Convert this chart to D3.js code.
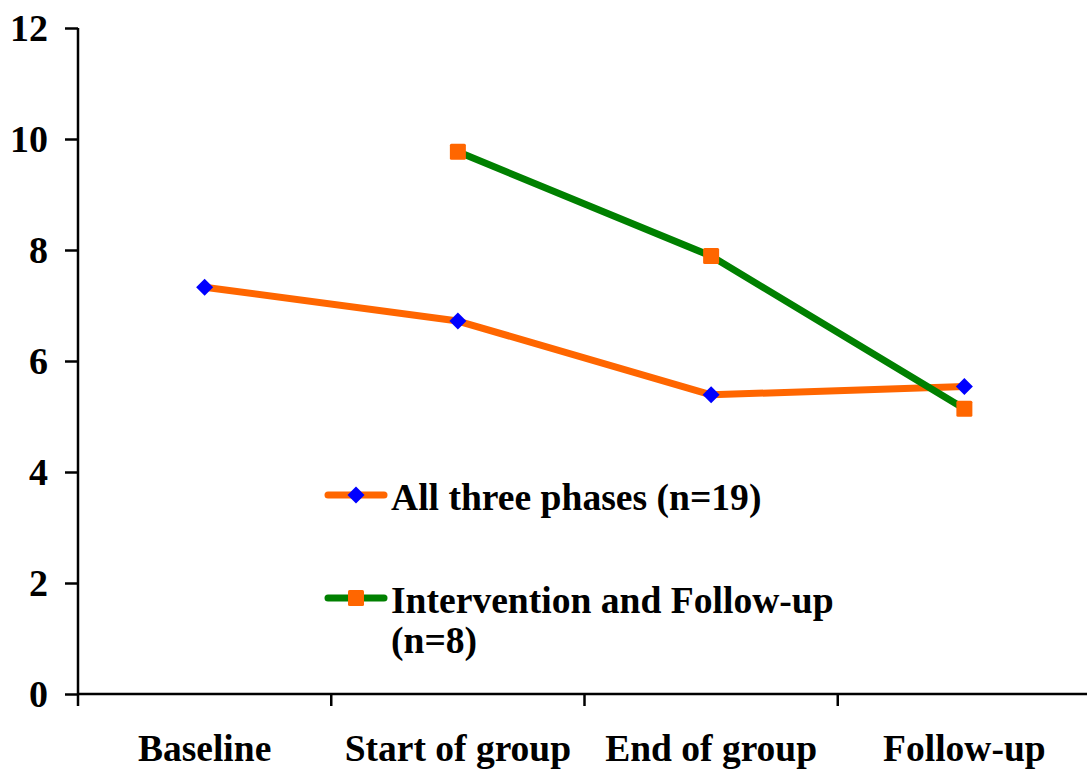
<!DOCTYPE html>
<html>
<head>
<meta charset="utf-8">
<script src="https://cdn.jsdelivr.net/npm/d3@7"></script>
<style>
  html, body { margin: 0; padding: 0; background: #fff; }
  svg text { font-family: "Liberation Serif", "Times New Roman", serif; font-weight: bold; fill: #000; }
</style>
</head>
<body>
<svg id="chart" width="1087" height="771"></svg>
<script>
// Phases along the x axis
const categories = ["Baseline", "Start of group", "End of group", "Follow-up"];
// Mean scores for participants who completed all three phases
const allPhases = [7.33, 6.72, 5.39, 5.54];
// Mean scores for the intervention / follow-up subgroup (no baseline)
const interventionFollowUp = [null, 9.77, 7.89, 5.14];
const yTicks = [0, 2, 4, 6, 8, 10, 12];
const seriesNames = ["All three phases (n=19)", "Intervention and Follow-up|(n=8)"];

const svg = d3.select("#chart");
const plotLeft = 78, plotRight = 1091, plotTop = 28, plotBottom = 694;

const x = d3.scaleBand().domain(categories).range([plotLeft, plotRight]).paddingInner(0).paddingOuter(0);
const y = d3.scaleLinear().domain([0, 12]).range([plotBottom, plotTop]);

// Y axis
const yAxis = svg.append("g")
  .attr("transform", `translate(${plotLeft},0)`)
  .call(d3.axisLeft(y).tickValues(yTicks).tickSize(13).tickPadding(17).tickFormat(d3.format("d")));
yAxis.select(".domain").attr("stroke", "#000").attr("stroke-width", 2.5).attr("d", `M0,${plotTop}V${plotBottom}`);
yAxis.selectAll(".tick line").attr("stroke", "#000").attr("stroke-width", 2.5);
yAxis.selectAll(".tick text").style("font-size", "38px").attr("dy", "0.34em");

// X axis with labels centred in bands and ticks on band boundaries
const xAxis = svg.append("g")
  .attr("transform", `translate(0,${plotBottom})`)
  .call(d3.axisBottom(x).tickSize(0).tickPadding(0));
xAxis.select(".domain").attr("stroke", "#000").attr("stroke-width", 2.5).attr("d", `M${plotLeft},0H1087`);
xAxis.selectAll(".tick text").style("font-size", "37.5px").attr("dy", null).attr("y", 67);

const boundaries = categories.map(c => x(c)).concat([x(categories[categories.length - 1]) + x.bandwidth()]);
xAxis.selectAll(".bound").data(boundaries).enter().append("line")
  .attr("class", "bound")
  .attr("x1", d => d).attr("x2", d => d)
  .attr("y1", 0).attr("y2", 12)
  .attr("stroke", "#000").attr("stroke-width", 2.5);

const cx = c => x(c) + x.bandwidth() / 2;

const orange = "#FF6600", green = "#008000", blue = "#0000FF";

const lineGen = d3.line()
  .defined(d => d.v != null)
  .x(d => cx(d.c))
  .y(d => y(d.v));

const s1 = categories.map((c, i) => ({ c, v: allPhases[i] }));
const s2 = categories.map((c, i) => ({ c, v: interventionFollowUp[i] }));

svg.append("path").datum(s1)
  .attr("d", lineGen).attr("fill", "none").attr("stroke", orange)
  .attr("stroke-width", 7).attr("stroke-linejoin", "round");
svg.append("path").datum(s2)
  .attr("d", lineGen).attr("fill", "none").attr("stroke", green)
  .attr("stroke-width", 7).attr("stroke-linejoin", "round");

const diamond = "M0,-8.5L8.5,0L0,8.5L-8.5,0Z";
const squareSize = 16;

svg.selectAll(".m1").data(s1.filter(d => d.v != null)).enter().append("path")
  .attr("class", "m1")
  .attr("transform", d => `translate(${cx(d.c)},${y(d.v)})`)
  .attr("d", diamond).attr("fill", blue);

svg.selectAll(".m2").data(s2.filter(d => d.v != null)).enter().append("rect")
  .attr("class", "m2")
  .attr("x", d => cx(d.c) - squareSize / 2).attr("y", d => y(d.v) - squareSize / 2)
  .attr("width", squareSize).attr("height", squareSize).attr("rx", 1.5)
  .attr("fill", orange);

// Legend
const legend = svg.append("g");
const legendItems = [
  { name: seriesNames[0], stroke: orange, marker: "diamond", fill: blue, y: 495 },
  { name: seriesNames[1], stroke: green, marker: "square", fill: orange, y: 598 }
];
legendItems.forEach(item => {
  const g = legend.append("g").attr("transform", `translate(0,${item.y})`);
  g.append("line").attr("x1", 328).attr("x2", 384).attr("y1", 0).attr("y2", 0)
    .attr("stroke", item.stroke).attr("stroke-width", 7).attr("stroke-linecap", "round");
  if (item.marker === "diamond") {
    g.append("path").attr("transform", "translate(356,0)").attr("d", diamond).attr("fill", item.fill);
  } else {
    g.append("rect").attr("x", 356 - squareSize / 2).attr("y", -squareSize / 2)
      .attr("width", squareSize).attr("height", squareSize).attr("rx", 1.5).attr("fill", item.fill);
  }
  const lines = item.name.split("|");
  const t = g.append("text").attr("x", 391).attr("y", 15).style("font-size", "37.6px");
  lines.forEach((ln, i) => {
    t.append("tspan").attr("x", 391).attr("dy", i === 0 ? 0 : 40).text(ln);
  });
});
</script>
</body>
</html>
